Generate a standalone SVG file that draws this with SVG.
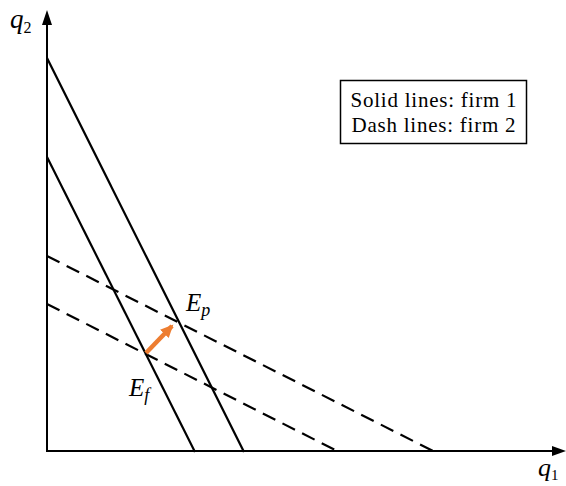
<svg xmlns="http://www.w3.org/2000/svg" width="566" height="486" viewBox="0 0 566 486">
<style>
.ax{stroke:#000;stroke-width:2;fill:none}
.s{stroke:#000;stroke-width:2.2;fill:none}
.d{stroke:#000;stroke-width:2.2;fill:none;stroke-dasharray:14 8}
.t{font-family:"Liberation Serif","DejaVu Serif",serif;fill:#000}
.m{font-family:"Liberation Serif","DejaVu Serif",serif;font-style:italic;fill:#000}
</style>
<defs>
<marker id="oh" markerWidth="14" markerHeight="14" refX="11" refY="7" orient="auto" markerUnits="userSpaceOnUse">
<path d="M0,1 L13,7 L0,13 Z" fill="#ED7D31"/>
</marker>
</defs>
<g id="axes">
<polyline class="ax" points="47,14 47,451 562,451"/>
<path d="M47,10 L42,25 L52,25 Z" fill="#000"/>
<path d="M566,451 L552,446 L552,456 Z" fill="#000"/>
<text class="m" x="10" y="28" font-size="27">q<tspan font-size="16" dy="5" font-style="normal">2</tspan></text>
<text class="m" x="538" y="476" font-size="26">q<tspan font-size="15" dy="4" font-style="normal">1</tspan></text>
</g>
<g id="connectors">
<line id="firm1-outer" class="s" x1="47" y1="58" x2="244" y2="452"/>
<line id="firm1-inner" class="s" x1="47" y1="157" x2="195" y2="452"/>
<line id="firm2-upper" class="d" x1="47" y1="256" x2="433" y2="451"/>
<line id="firm2-lower" class="d" x1="47" y1="304" x2="337" y2="451"/>
<line id="shift" x1="146" y1="353" x2="172" y2="326" stroke="#ED7D31" stroke-width="4.5" marker-end="url(#oh)"/>
</g>
<g id="Ep">
<text class="m" x="186" y="311" font-size="25">E<tspan font-size="18" dy="5">p</tspan></text>
</g>
<g id="Ef">
<text class="m" x="129" y="396" font-size="25">E<tspan font-size="18" dy="5">f</tspan></text>
</g>
<g id="legend">
<rect x="340.5" y="80.5" width="186" height="63" fill="#fff" stroke="#000" stroke-width="1.5"/>
<text class="t" x="433.5" y="107" font-size="21" text-anchor="middle" textLength="166">Solid lines: firm 1</text>
<text class="t" x="433.5" y="132" font-size="21" text-anchor="middle" textLength="164">Dash lines: firm 2</text>
</g>
</svg>
